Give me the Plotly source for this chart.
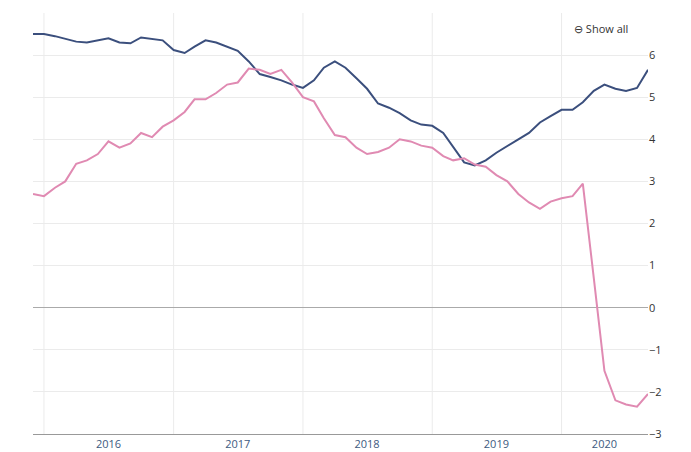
import pandas as pd
import plotly.graph_objects as go

months = pd.date_range("2015-12-01", "2020-09-01", freq="MS")

navy_series = [
    6.5,
    6.5, 6.45, 6.38, 6.32, 6.3, 6.35, 6.4, 6.3, 6.28, 6.42, 6.38, 6.35,
    6.12, 6.05, 6.2, 6.35, 6.3, 6.2, 6.1, 5.85, 5.55, 5.48, 5.4, 5.3,
    5.22, 5.4, 5.7, 5.85, 5.7, 5.45, 5.2, 4.85, 4.75, 4.62, 4.45, 4.35,
    4.32, 4.15, 3.82, 3.45, 3.38, 3.5, 3.68, 3.85, 4.0, 4.15, 4.4, 4.55,
    4.7, 4.7, 4.88, 5.15, 5.3, 5.2, 5.15, 5.22, 5.65,
]
pink_series = [
    2.7,
    2.65, 2.85, 3.0, 3.42, 3.5, 3.65, 3.95, 3.8, 3.9, 4.15, 4.05, 4.3,
    4.45, 4.65, 4.95, 4.95, 5.1, 5.3, 5.35, 5.68, 5.65, 5.55, 5.65, 5.35,
    5.0, 4.9, 4.5, 4.1, 4.05, 3.8, 3.65, 3.7, 3.8, 4.0, 3.95, 3.85,
    3.8, 3.6, 3.5, 3.55, 3.4, 3.35, 3.15, 3.0, 2.7, 2.5, 2.35, 2.52,
    2.6, 2.65, 2.95, 0.7, -1.5, -2.2, -2.3, -2.35, -2.05,
]
year_ticks = ["2016-07-01", "2017-07-01", "2018-07-01", "2019-07-01", "2020-05-01"]
year_labels = ["2016", "2017", "2018", "2019", "2020"]
y_ticks = [7, 6, 5, 4, 3, 2, 1, 0, -1, -2, -3]

fig = go.Figure()
fig.add_trace(go.Scatter(x=months, y=navy_series, mode="lines",
                         line=dict(color="#3b4f7d", width=2)))
fig.add_trace(go.Scatter(x=months, y=pink_series, mode="lines",
                         line=dict(color="#e08ab2", width=2)))

# vertical lines at year boundaries
for yr in ["2016", "2017", "2018", "2019", "2020"]:
    fig.add_vline(x=yr + "-01-01", line=dict(color="#ebebeb", width=1), layer="below")

fig.update_layout(
    width=691, height=452,
    margin=dict(l=25, r=51, t=5, b=26),
    paper_bgcolor="white", plot_bgcolor="white",
    showlegend=False,
    font=dict(family="Open Sans", size=11, color="#333"),
    xaxis=dict(range=["2015-12-01", "2020-09-01"], tickvals=year_ticks, ticktext=year_labels,
               showgrid=False, ticks="", showline=True, linecolor="#999",
               tickfont=dict(color="#3d5a80")),
    yaxis=dict(side="right", range=[-3, 7], tickvals=y_ticks, gridcolor="#ebebeb",
               zeroline=True, zerolinecolor="#aaa", zerolinewidth=1, ticks=""),
    annotations=[dict(x=0.97, y=0.985, xref="paper", yref="paper", showarrow=False,
                      text="⊖ Show all", font=dict(size=11, color="#333"), xanchor="right")],
)

fig.write_html("out.html")
